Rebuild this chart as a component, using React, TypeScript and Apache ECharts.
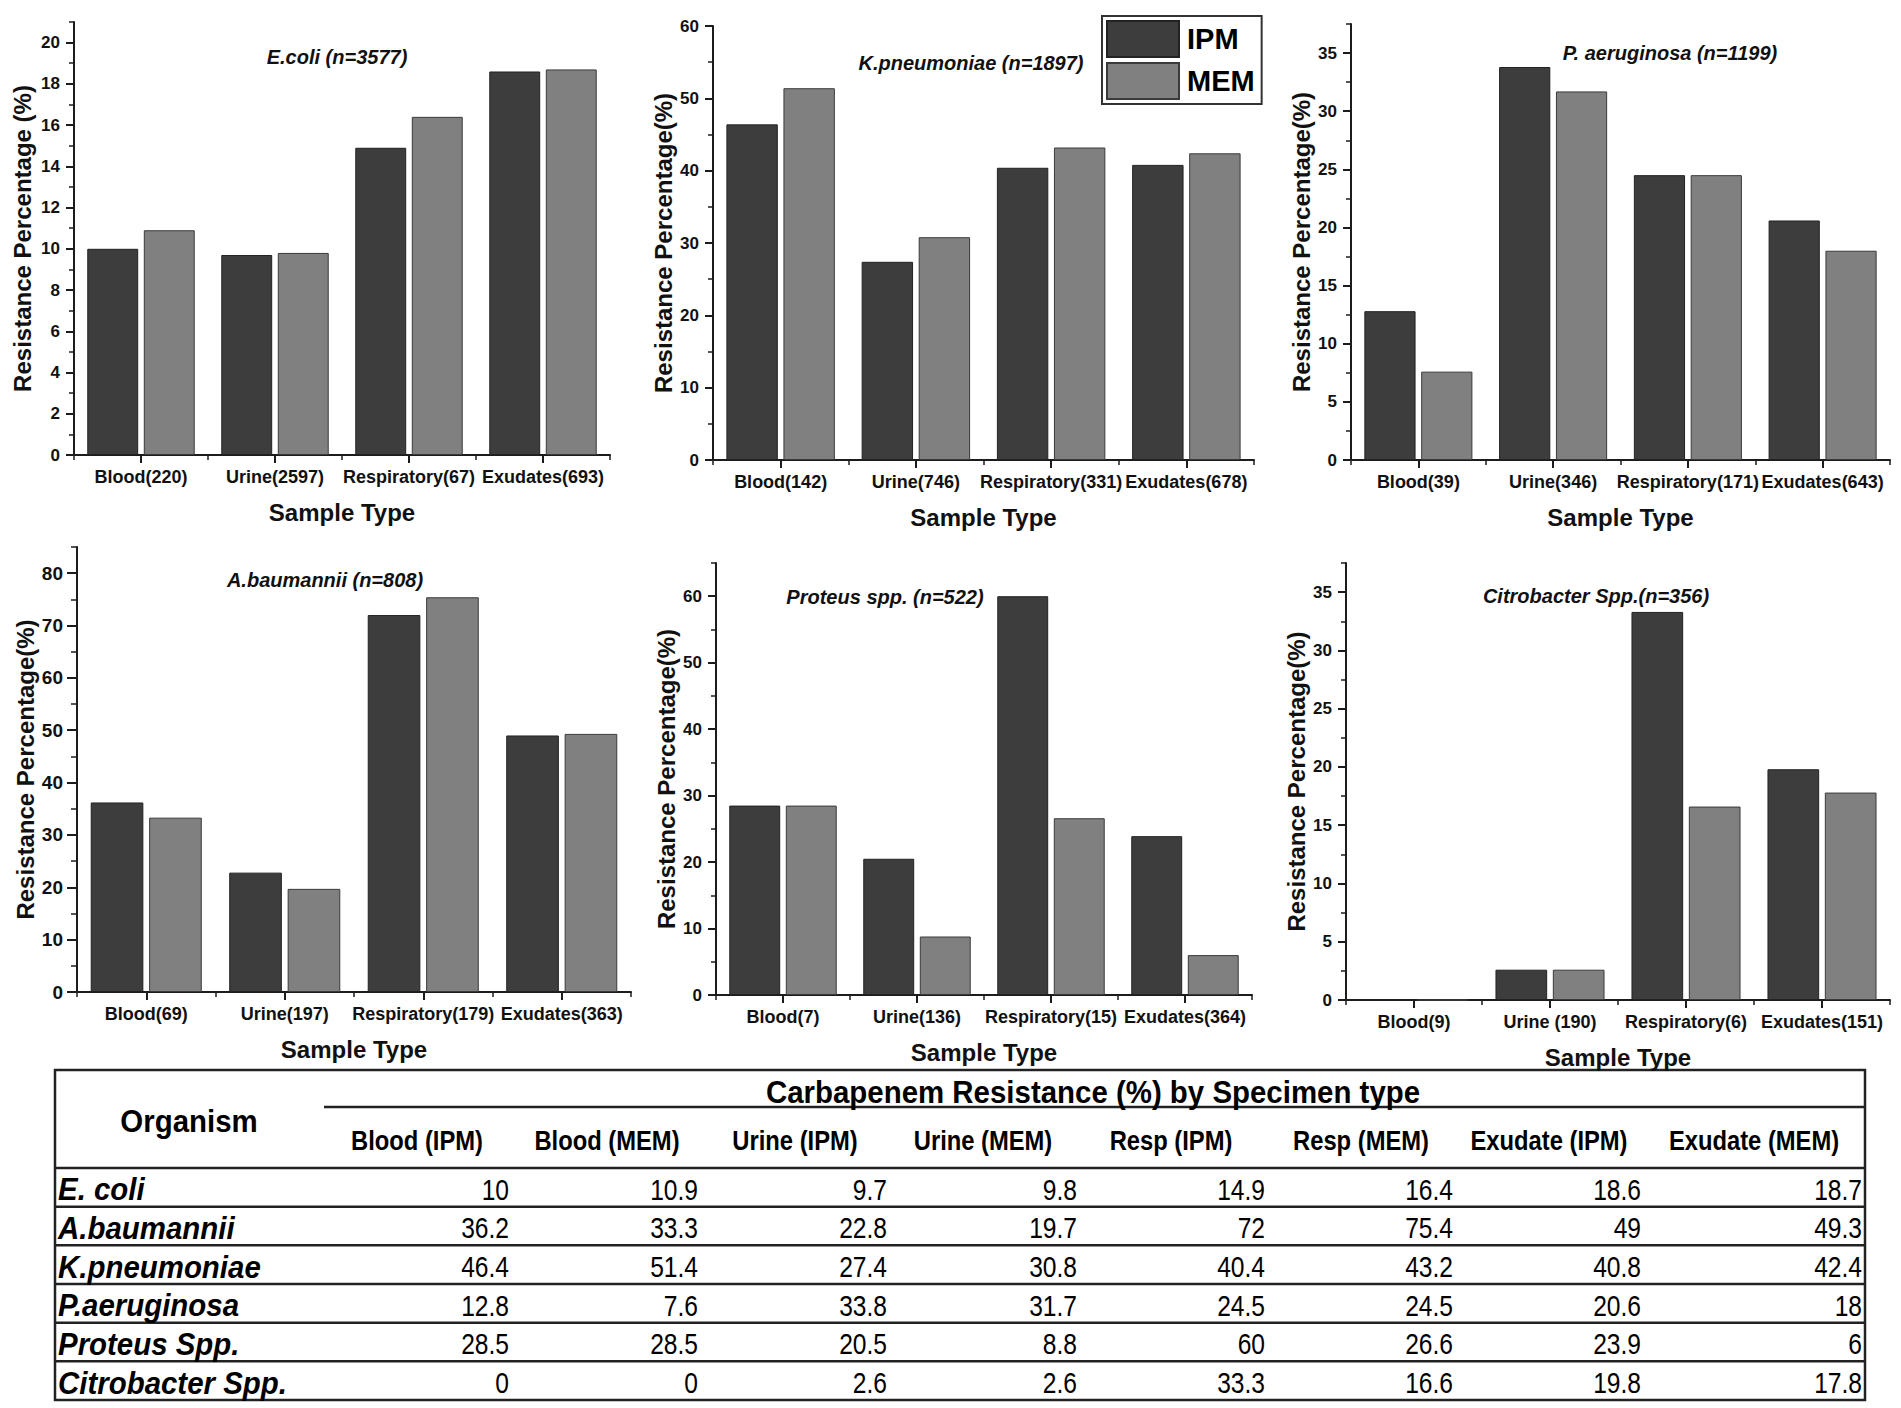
import React, { useEffect, useRef } from "react";
import * as echarts from "echarts";

const FONT = '"Liberation Sans", Arial, Helvetica, sans-serif';

// ---- data ----
const ecoliCats = ["Blood(220)", "Urine(2597)", "Respiratory(67)", "Exudates(693)"];
const ecoliIPM = [10, 9.7, 14.9, 18.6];
const ecoliMEM = [10.9, 9.8, 16.4, 18.7];
const ecoliTicks = [0, 2, 4, 6, 8, 10, 12, 14, 16, 18, 20];
const ecoliMinor = [1, 3, 5, 7, 9, 11, 13, 15, 17, 19, 21];

const kpnCats = ["Blood(142)", "Urine(746)", "Respiratory(331)", "Exudates(678)"];
const kpnIPM = [46.4, 27.4, 40.4, 40.8];
const kpnMEM = [51.4, 30.8, 43.2, 42.4];
const kpnTicks = [0, 10, 20, 30, 40, 50, 60];
const kpnMinor = [5, 15, 25, 35, 45, 55];

const paerCats = ["Blood(39)", "Urine(346)", "Respiratory(171)", "Exudates(643)"];
const paerIPM = [12.8, 33.8, 24.5, 20.6];
const paerMEM = [7.6, 31.7, 24.5, 18];
const paerTicks = [0, 5, 10, 15, 20, 25, 30, 35];
const paerMinor = [2.5, 7.5, 12.5, 17.5, 22.5, 27.5, 32.5, 37.5];

const abauCats = ["Blood(69)", "Urine(197)", "Respiratory(179)", "Exudates(363)"];
const abauIPM = [36.2, 22.8, 72, 49];
const abauMEM = [33.3, 19.7, 75.4, 49.3];
const abauTicks = [0, 10, 20, 30, 40, 50, 60, 70, 80];
const abauMinor = [5, 15, 25, 35, 45, 55, 65, 75, 85];

const protCats = ["Blood(7)", "Urine(136)", "Respiratory(15)", "Exudates(364)"];
const protIPM = [28.5, 20.5, 60, 23.9];
const protMEM = [28.5, 8.8, 26.6, 6];
const protTicks = [0, 10, 20, 30, 40, 50, 60];
const protMinor = [5, 15, 25, 35, 45, 55, 65];

const citroCats = ["Blood(9)", "Urine (190)", "Respiratory(6)", "Exudates(151)"];
const citroIPM = [0, 2.6, 33.3, 19.8];
const citroMEM = [0, 2.6, 16.6, 17.8];
const citroTicks = [0, 5, 10, 15, 20, 25, 30, 35];
const citroMinor = [2.5, 7.5, 12.5, 17.5, 22.5, 27.5, 32.5, 37.5];

const tableTitle = "Carbapenem Resistance (%) by Specimen type";
const tableCols = [
  "Blood (IPM)", "Blood (MEM)", "Urine (IPM)", "Urine (MEM)",
  "Resp (IPM)", "Resp (MEM)", "Exudate (IPM)", "Exudate (MEM)",
];
const tableRowNames = ["E. coli", "A.baumannii", "K.pneumoniae", "P.aeruginosa", "Proteus Spp.", "Citrobacter Spp."];
const tableRowData = [
  [ecoliIPM, ecoliMEM],
  [abauIPM, abauMEM],
  [kpnIPM, kpnMEM],
  [paerIPM, paerMEM],
  [protIPM, protMEM],
  [citroIPM, citroMEM],
];

// ---- layout ----
const panels = [
  { title: "E.coli (n=3577)", cats: ecoliCats, ipm: ecoliIPM, mem: ecoliMEM, ticks: ecoliTicks, minor: ecoliMinor, max: 21,
    yName: "Resistance Percentage (%)", grid: { left: 74, top: 22, width: 536, height: 433 }, tpos: [337, 57],
    nameGap: 40, tickFont: 17, tickLen: 8, minorLen: 5 },
  { title: "K.pneumoniae (n=1897)", cats: kpnCats, ipm: kpnIPM, mem: kpnMEM, ticks: kpnTicks, minor: kpnMinor, max: 60,
    yName: "Resistance Percentage(%)", grid: { left: 713, top: 26, width: 541, height: 434 }, tpos: [971, 63],
    nameGap: 38, tickFont: 17, tickLen: 8, minorLen: 5 },
  { title: "P. aeruginosa (n=1199)", cats: paerCats, ipm: paerIPM, mem: paerMEM, ticks: paerTicks, minor: paerMinor, max: 37.5,
    yName: "Resistance Percentage(%)", grid: { left: 1351, top: 24, width: 539, height: 436 }, tpos: [1670, 53],
    nameGap: 38, tickFont: 17, tickLen: 8, minorLen: 5 },
  { title: "A.baumannii (n=808)", cats: abauCats, ipm: abauIPM, mem: abauMEM, ticks: abauTicks, minor: abauMinor, max: 85,
    yName: "Resistance Percentage(%)", grid: { left: 77, top: 547, width: 554, height: 445 }, tpos: [325, 580],
    nameGap: 38, tickFont: 19, tickLen: 10, minorLen: 6 },
  { title: "Proteus spp. (n=522)", cats: protCats, ipm: protIPM, mem: protMEM, ticks: protTicks, minor: protMinor, max: 65,
    yName: "Resistance Percentage(%)", grid: { left: 716, top: 563, width: 536, height: 432 }, tpos: [885, 597],
    nameGap: 38, tickFont: 17, tickLen: 8, minorLen: 5 },
  { title: "Citrobacter Spp.(n=356)", cats: citroCats, ipm: citroIPM, mem: citroMEM, ticks: citroTicks, minor: citroMinor, max: 37.5,
    yName: "Resistance Percentage(%)", grid: { left: 1346, top: 563, width: 544, height: 437 }, tpos: [1596, 596],
    nameGap: 38, tickFont: 17, tickLen: 8, minorLen: 5 },
];

const AX = "#1c1c1c";
const TXT = "#111";
const IPM_COLOR = "#3d3d3d";
const MEM_COLOR = "#808080";

const TBL = {
  left: 55, right: 1865, top: 1070, titleLine: 1107, titleLineX: 324, headBottom: 1168, bottom: 1400,
  titleX: 1093, titleY: 1092, orgX: 189, orgY: 1121, headY: 1140,
  colCenters: [417, 607, 795, 983, 1171, 1361, 1549, 1754],
  colRights: [509, 698, 887, 1077, 1265, 1453, 1641, 1862],
  nameX: 58,
};

function buildOption() {
  const grid: any[] = [];
  const xAxis: any[] = [];
  const yAxis: any[] = [];
  const series: any[] = [];
  const graphic: any[] = [];

  panels.forEach((p, i) => {
    grid.push({ ...p.grid, containLabel: false, outerBoundsMode: "none" });
    xAxis.push({
      type: "category", gridIndex: i, data: p.cats, position: "bottom",
      axisLine: { show: true, lineStyle: { color: AX, width: 2 } },
      axisTick: { show: true, alignWithLabel: true, length: 8, inside: false, lineStyle: { color: AX, width: 2 } },
      axisLabel: { interval: 0, margin: 13, color: TXT, fontFamily: FONT, fontWeight: "bold", fontSize: 18 },
      name: "Sample Type", nameLocation: "middle", nameGap: 45,
      nameTextStyle: { color: TXT, fontFamily: FONT, fontWeight: "bold", fontSize: 24 },
      splitLine: { show: false },
    });
    xAxis.push({
      type: "category", gridIndex: i, data: p.cats, position: "bottom",
      axisLine: { show: false },
      axisTick: { show: true, alignWithLabel: false, length: 5, lineStyle: { color: AX, width: 1.5 } },
      axisLabel: { show: false },
      splitLine: { show: false },
    });
    yAxis.push({
      type: "value", gridIndex: i, min: 0, max: p.max, position: "left",
      axisLine: { show: true, lineStyle: { color: AX, width: 2 } },
      axisTick: { show: true, length: p.tickLen, customValues: p.ticks, lineStyle: { color: AX, width: 2 } },
      axisLabel: { customValues: p.ticks, margin: 14, color: TXT, fontFamily: FONT, fontWeight: "bold", fontSize: p.tickFont },
      splitLine: { show: false },
      name: p.yName, nameLocation: "middle", nameGap: p.nameGap,
      nameTextStyle: { color: TXT, fontFamily: FONT, fontWeight: "bold", fontSize: 24 },
    });
    yAxis.push({
      type: "value", gridIndex: i, min: 0, max: p.max, position: "left", offset: 0,
      axisLine: { show: false },
      axisTick: { show: true, length: p.minorLen, customValues: p.minor, lineStyle: { color: AX, width: 1.5 } },
      axisLabel: { show: false },
      splitLine: { show: false },
    });
    const common = { type: "bar", xAxisIndex: i * 2, yAxisIndex: i * 2, barWidth: "38%", barGap: "11%" };
    series.push({ ...common, name: "IPM", data: p.ipm, itemStyle: { color: IPM_COLOR, borderColor: "#222", borderWidth: 1 } });
    series.push({ ...common, name: "MEM", data: p.mem, itemStyle: { color: MEM_COLOR, borderColor: "#3a3a3a", borderWidth: 1 } });

    graphic.push({
      type: "text", x: p.tpos[0], y: p.tpos[1],
      style: { text: p.title, fill: TXT, font: `italic bold 20px ${FONT}`, align: "center", verticalAlign: "middle" },
    });
  });

  // ---- table ----
  const lineStyle = { stroke: "#222", lineWidth: 2.5 };
  graphic.push({
    type: "rect", shape: { x: TBL.left, y: TBL.top, width: TBL.right - TBL.left, height: TBL.bottom - TBL.top },
    style: { fill: "none", ...lineStyle },
  });
  graphic.push({ type: "line", shape: { x1: TBL.titleLineX, y1: TBL.titleLine, x2: TBL.right, y2: TBL.titleLine }, style: lineStyle });
  graphic.push({ type: "line", shape: { x1: TBL.left, y1: TBL.headBottom, x2: TBL.right, y2: TBL.headBottom }, style: lineStyle });
  const rowH = (TBL.bottom - TBL.headBottom) / tableRowNames.length;
  for (let r = 1; r < tableRowNames.length; r++) {
    const y = TBL.headBottom + r * rowH;
    graphic.push({ type: "line", shape: { x1: TBL.left, y1: y, x2: TBL.right, y2: y }, style: lineStyle });
  }
  graphic.push({
    type: "text", x: TBL.titleX, y: TBL.titleY, scaleX: 0.92,
    originX: 0, originY: 0,
    style: { text: tableTitle, fill: "#000", font: `bold 32px ${FONT}`, align: "center", verticalAlign: "middle" },
  });
  graphic.push({
    type: "text", x: TBL.orgX, y: TBL.orgY, scaleX: 0.92,
    style: { text: "Organism", fill: "#000", font: `bold 32px ${FONT}`, align: "center", verticalAlign: "middle" },
  });
  tableCols.forEach((c, k) => {
    graphic.push({
      type: "text", x: TBL.colCenters[k], y: TBL.headY, scaleX: 0.88,
      style: { text: c, fill: "#000", font: `bold 27px ${FONT}`, align: "center", verticalAlign: "middle" },
    });
  });
  tableRowNames.forEach((nm, r) => {
    const cy = TBL.headBottom + (r + 0.5) * rowH + 2;
    graphic.push({
      type: "text", x: TBL.nameX, y: cy, scaleX: 0.92,
      style: { text: nm, fill: "#000", font: `italic bold 32px ${FONT}`, align: "left", verticalAlign: "middle" },
    });
    const [ipm, mem] = tableRowData[r];
    for (let s = 0; s < 4; s++) {
      [ipm[s], mem[s]].forEach((v, j) => {
        graphic.push({
          type: "text", x: TBL.colRights[s * 2 + j], y: cy, scaleX: 0.82,
          style: { text: String(v), fill: "#000", font: `30px ${FONT}`, align: "right", verticalAlign: "middle" },
        });
      });
    }
  });

  return {
    animation: false,
    backgroundColor: "#ffffff",
    textStyle: { fontFamily: FONT },
    legend: {
      data: ["IPM", "MEM"], orient: "vertical", left: 1102, top: 16,
      itemWidth: 72, itemHeight: 36, itemGap: 4, padding: [4, 7, 4, 4],
      borderColor: "#333", borderWidth: 2, icon: "rect",
      textStyle: { color: "#000", fontFamily: FONT, fontWeight: "bold", fontSize: 29, padding: [0, 0, 0, 3] },
      selectedMode: false,
    },
    grid, xAxis, yAxis, series, graphic,
  };
}

export default function App() {
  const ref = useRef<HTMLDivElement>(null);
  useEffect(() => {
    document.body.style.margin = "0";
    const chart = echarts.init(ref.current!, null, { renderer: "svg" });
    chart.setOption(buildOption() as any);
    return () => chart.dispose();
  }, []);
  return <div ref={ref} style={{ width: 1901, height: 1408, background: "#fff" }} />;
}
